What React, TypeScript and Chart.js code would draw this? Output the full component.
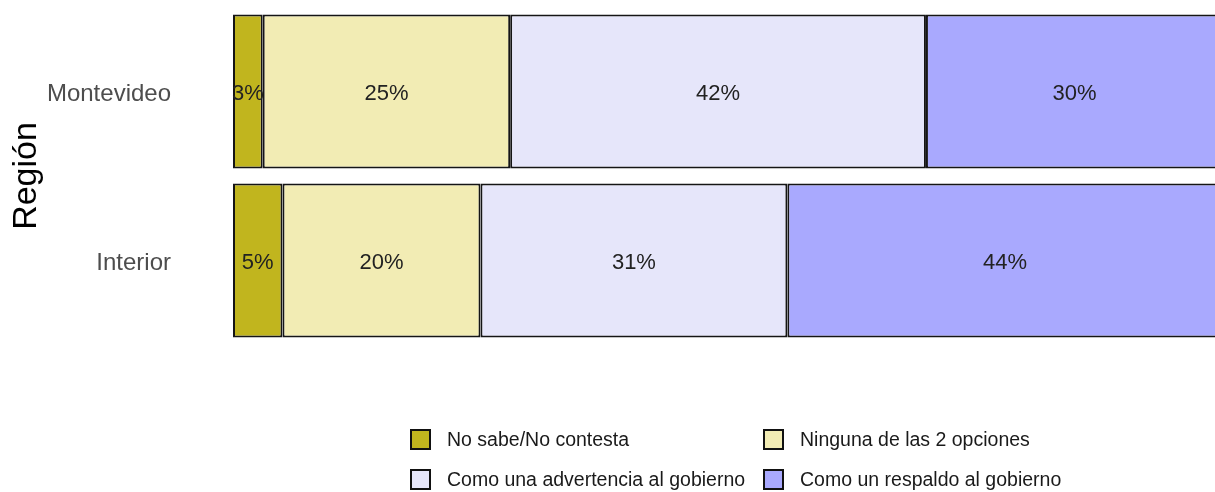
import React, { useEffect, useRef } from "react";
import { Chart, registerables } from "chart.js";

Chart.register(...registerables);

const categories = ["Montevideo", "Interior"];
const seriesNames = [
  "No sabe/No contesta",
  "Ninguna de las 2 opciones",
  "Como una advertencia al gobierno",
  "Como un respaldo al gobierno",
];
const noSabe = [3, 5];
const ninguna = [25, 20];
const advertencia = [42, 31];
const respaldo = [30, 44];
const seriesColors = ["#C1B51E", "#F2ECB4", "#E6E6FA", "#A9A9FE"];
const axisTitle = "Región";

const FONT = "'Liberation Sans', Arial, Helvetica, sans-serif";

const labelPlugin = {
  id: "segLabels",
  afterDatasetsDraw(chart: any) {
    const ctx = chart.ctx;
    ctx.save();
    ctx.font = `22px ${FONT}`;
    ctx.fillStyle = "#222222";
    ctx.textAlign = "center";
    ctx.textBaseline = "middle";
    chart.data.datasets.forEach((ds: any, di: number) => {
      const meta = chart.getDatasetMeta(di);
      meta.data.forEach((el: any, i: number) => {
        const v = ds.data[i];
        const cx = (el.x + el.base) / 2;
        ctx.fillText(`${Math.round(v)}%`, cx, el.y + 2.5);
      });
    });
    ctx.restore();
  },
};

export default function App() {
  const ref = useRef<HTMLCanvasElement | null>(null);

  useEffect(() => {
    document.body.style.margin = "0";
    const values = [noSabe, ninguna, advertencia, respaldo];
    const chart = new Chart(ref.current as HTMLCanvasElement, {
      type: "bar",
      data: {
        labels: categories,
        datasets: seriesNames.map((name, i) => ({
          label: name,
          data: values[i],
          backgroundColor: seriesColors[i],
          borderColor: "#151515",
          borderWidth: 2,
          borderSkipped: false,
          barPercentage: 0.91,
          categoryPercentage: 1,
          clip: 0,
        })),
      },
      options: {
        indexAxis: "y",
        animation: false,
        responsive: false,
        maintainAspectRatio: false,
        layout: { padding: { top: 7, bottom: 147, left: 0, right: 0 } },
        plugins: {
          legend: { display: false },
          tooltip: { enabled: false },
        },
        scales: {
          x: {
            stacked: true,
            min: 0,
            max: 99.2,
            display: false,
          },
          y: {
            stacked: true,
            grid: { display: false, drawTicks: false },
            border: { display: false },
            ticks: {
              padding: 62,
              labelOffset: 3,
              color: "#4d4d4d",
              font: { family: FONT, size: 24 },
            },
            title: {
              display: true,
              text: axisTitle,
              color: "#000000",
              font: { family: FONT, size: 34 },
              padding: { top: 6, bottom: 0 },
            },
            afterFit(scale: any) {
              scale.width = 233;
              scale.paddingTop = 0;
              scale.paddingBottom = 0;
            },
          },
        },
      },
      plugins: [labelPlugin],
    } as any);
    return () => chart.destroy();
  }, []);

  const legendPos = [
    { left: 410, top: 429 },
    { left: 763, top: 429 },
    { left: 410, top: 469 },
    { left: 763, top: 469 },
  ];

  return (
    <div style={{ position: "absolute", left: 0, top: 0, width: 1215, height: 492, background: "#fff", overflow: "hidden" }}>
      <canvas ref={ref} width={1215} height={492} style={{ display: "block" }} />
      {seriesNames.map((name, i) => (
        <div
          key={name}
          style={{
            position: "absolute",
            left: legendPos[i].left,
            top: legendPos[i].top,
            height: 21,
            display: "flex",
            alignItems: "center",
            fontFamily: FONT,
            fontSize: 19.5,
            color: "#1a1a1a",
            whiteSpace: "nowrap",
          }}
        >
          <span
            style={{
              display: "inline-block",
              boxSizing: "border-box",
              width: 21,
              height: 21,
              border: "2px solid #111",
              background: seriesColors[i],
              marginRight: 16,
            }}
          />
          <span>{name}</span>
        </div>
      ))}
    </div>
  );
}
